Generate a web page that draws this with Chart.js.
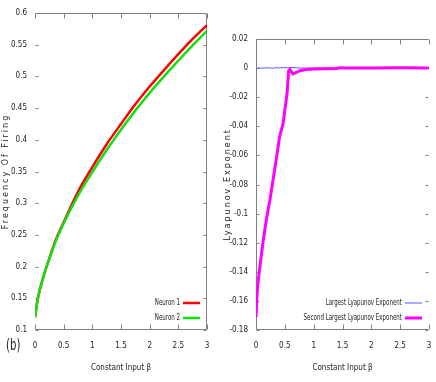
<!DOCTYPE html>
<html>
<head>
<meta charset="utf-8">
<script src="https://cdn.jsdelivr.net/npm/chart.js@4"></script>
<style>
  body { margin: 0; background: #fff; }
  #wrap { position: relative; width: 436px; height: 382px; }
  canvas { position: absolute; top: 0; }
  #izq { left: 0; }
  #der { left: 218px; }
  #etiqueta { position: absolute; left: 6px; top: 336px; font: 15px "DejaVu Sans Condensed", sans-serif; color: #222; transform: scaleX(0.75); transform-origin: left top; }
</style>
</head>
<body>
<div id="wrap">
  <canvas id="izq" width="218" height="382"></canvas>
  <canvas id="der" width="218" height="382"></canvas>
  <div id="etiqueta">(b)</div>
</div>
<script>
// Datos panel izquierdo: frecuencia de disparo
const betaFrec = [0, 0.05, 0.15, 0.25, 0.375, 0.5, 0.75, 1, 1.25, 1.5, 1.75, 2, 2.25, 2.5, 2.75, 3];
const neurona1 = [0.12, 0.15, 0.185, 0.213, 0.245, 0.27, 0.318, 0.357, 0.393, 0.425, 0.456, 0.484, 0.51, 0.535, 0.559, 0.581];
const neurona2 = [0.12, 0.15, 0.185, 0.212, 0.243, 0.268, 0.312, 0.349, 0.384, 0.416, 0.446, 0.474, 0.5, 0.525, 0.549, 0.572];

// Datos panel derecho: exponentes de Lyapunov
const betaLyapGrande = [0, 0.1, 0.2, 0.3, 0.35, 0.4, 0.5, 0.55, 0.6, 0.7, 0.8, 0.9, 1, 1.5, 2, 2.5, 3];
const lyapGrande = [0, 0, 0.0002, -0.0001, 0.0003, 0.0001, 0.0004, 0.0002, 0.0005, 0.0002, 0, 0, 0, 0, 0, 0, 0];
const betaLyapSegundo = [0, 0.02, 0.05, 0.12, 0.18, 0.24, 0.295, 0.35, 0.41, 0.47, 0.5, 0.54, 0.565, 0.59, 0.62, 0.64, 0.7, 0.75, 0.8, 0.875, 1, 1.2, 1.4, 1.45, 1.6, 2, 2.5, 3];
const lyapSegundo = [-0.171, -0.154, -0.142, -0.12, -0.104, -0.091, -0.077, -0.063, -0.047, -0.038, -0.029, -0.017, -0.002, -0.001, -0.003, -0.004, -0.003, -0.002, -0.0015, -0.001, -0.0006, -0.0004, -0.0003, 0.0002, 0.0001, 0.0001, 0.0002, 0.0001];

const fuenteCond = '"DejaVu Sans Condensed", sans-serif';

function puntos(xs, ys) {
    return xs.map((x, i) => ({x: x, y: ys[i]}));
}

function formatoTick(v) {
    return String(+v.toFixed(3));
}

// Marco y marcas hacia dentro estilo gnuplot, mas leyenda dentro del grafico
const marcoGnuplot = {
    id: 'marcoGnuplot',
    beforeDatasetsDraw(chart, args, opts) {
        const {ctx, chartArea: a, scales: {x, y}} = chart;
        ctx.save();
        ctx.strokeStyle = '#808080';
        ctx.lineWidth = 1;
        ctx.beginPath();
        const L = Math.round(a.left) + 0.5, R = Math.round(a.right) - 0.5;
        const T = Math.round(a.top) + 0.5, B = Math.round(a.bottom) - 0.5;
        if (opts.lados.includes('top')) { ctx.moveTo(L, T); ctx.lineTo(R, T); }
        if (opts.lados.includes('bottom')) { ctx.moveTo(L, B); ctx.lineTo(R, B); }
        if (opts.lados.includes('left')) { ctx.moveTo(L, T); ctx.lineTo(L, B); }
        if (opts.lados.includes('right')) { ctx.moveTo(R, T); ctx.lineTo(R, B); }
        x.ticks.forEach(t => {
            const px = Math.round(x.getPixelForValue(t.value)) + 0.5;
            ctx.moveTo(px, B); ctx.lineTo(px, B - 5);
            ctx.moveTo(px, T); ctx.lineTo(px, T + 5);
        });
        y.ticks.forEach(t => {
            const py = Math.round(y.getPixelForValue(t.value)) + 0.5;
            ctx.moveTo(L, py); ctx.lineTo(L + 3, py);
            ctx.moveTo(R, py); ctx.lineTo(R - 3, py);
        });
        ctx.stroke();
        ctx.restore();
    },
    afterDraw(chart) {
        const {ctx, chartArea: a} = chart;
        ctx.save();
        ctx.font = '9px ' + fuenteCond;
        ctx.textAlign = 'right';
        ctx.textBaseline = 'middle';
        const filas = [a.bottom - 27, a.bottom - 12];
        chart.data.datasets.forEach((ds, i) => {
            const yy = filas[i];
            const xt = a.right - 27;
            ctx.save();
            ctx.translate(xt, yy);
            ctx.scale(0.68, 1);
            ctx.fillStyle = '#222';
            ctx.fillText(ds.label, 0, 0);
            ctx.restore();
            ctx.strokeStyle = ds.borderColor;
            ctx.lineWidth = ds.borderWidth;
            ctx.beginPath();
            ctx.moveTo(a.right - 24, yy);
            ctx.lineTo(a.right - 7, yy);
            ctx.stroke();
        });
        ctx.restore();
    }
};

// titulo vertical con letras separadas como en el original
function separarTitulo(s) {
    if (s._separado) return;
    s._separado = true;
    const original = s.drawTitle.bind(s);
    s.drawTitle = function(area) {
        this.ctx.letterSpacing = '2px';
        original(area);
        this.ctx.letterSpacing = '0px';
    };
}

function escalas(cfgY, anchoY, tituloY) {
    return {
        x: {
            type: 'linear',
            min: 0, max: 3,
            grid: {display: false, drawTicks: false},
            border: {display: false},
            ticks: {stepSize: 0.5, padding: 11, color: '#222', font: {size: 8, family: fuenteCond}, callback: formatoTick, maxRotation: 0},
            title: {display: true, text: 'Constant Input \u03b2', color: '#222', font: {size: 8, family: fuenteCond}, padding: {top: 0, bottom: 9}},
            afterFit: s => { s.height = 52; s.paddingLeft = 0; s.paddingRight = 0; }
        },
        y: {
            type: 'linear',
            min: cfgY.min, max: cfgY.max,
            grid: {display: false, drawTicks: false},
            border: {display: false},
            ticks: {stepSize: cfgY.paso, padding: 8, color: '#222', font: {size: 8, family: fuenteCond}, callback: formatoTick},
            title: {display: true, text: tituloY, color: '#222', font: {size: 8, family: 'DejaVu Sans'}, padding: {top: cfgY.tituloPad, bottom: 0}},
            afterFit: s => { s.width = anchoY; separarTitulo(s); }
        }
    };
}

new Chart(document.getElementById('izq'), {
    type: 'line',
    data: {
        datasets: [{
            label: 'Neuron 1',
            data: puntos(betaFrec, neurona1),
            borderColor: '#ff0000',
            borderWidth: 2.5,
            pointRadius: 0,
            cubicInterpolationMode: 'monotone',
            order: 1
        }, {
            label: 'Neuron 2',
            data: puntos(betaFrec, neurona2),
            borderColor: '#11e011',
            borderWidth: 2.5,
            pointRadius: 0,
            cubicInterpolationMode: 'monotone',
            order: 0
        }]
    },
    options: {
        responsive: false,
        animation: false,
        layout: {padding: {left: 0, right: 11, top: 13, bottom: 0}},
        plugins: {legend: {display: false}, tooltip: {enabled: false}, marcoGnuplot: {lados: ['top', 'right', 'bottom']}},
        scales: escalas({min: 0.1, max: 0.6, paso: 0.05, tituloPad: 1}, 35, 'Frequency Of Firing')
    },
    plugins: [marcoGnuplot]
});

new Chart(document.getElementById('der'), {
    type: 'line',
    data: {
        datasets: [{
            label: 'Largest Lyapunov Exponent',
            data: puntos(betaLyapGrande, lyapGrande),
            borderColor: '#4a5cff',
            borderWidth: 1,
            pointRadius: 0,
            order: 1
        }, {
            label: 'Second Largest Lyapunov Exponent',
            data: puntos(betaLyapSegundo, lyapSegundo),
            borderColor: '#ff00ff',
            borderWidth: 3,
            pointRadius: 0,
            order: 0
        }]
    },
    options: {
        responsive: false,
        animation: false,
        layout: {padding: {left: 0, right: 7, top: 39, bottom: 0}},
        plugins: {legend: {display: false}, tooltip: {enabled: false}, marcoGnuplot: {lados: ['top', 'left', 'bottom']}},
        scales: escalas({min: -0.18, max: 0.02, paso: 0.02, tituloPad: 5}, 38, 'Lyapunov Exponent')
    },
    plugins: [marcoGnuplot]
});
</script>
</body>
</html>
